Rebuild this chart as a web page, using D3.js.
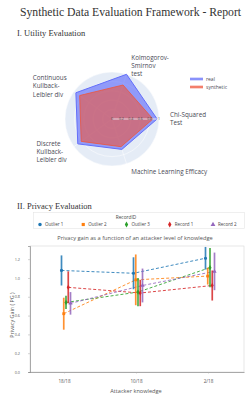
<!DOCTYPE html>
<html>
<head>
  <meta charset="UTF-8">
  <title>Synthetic Data Evaluation Framework - Report</title>
  <script src="https://d3js.org/d3.v7.min.js"></script>
  <style>
    body { margin: 0; background: #ffffff; }
    .serif { font-family: "Liberation Serif", "DejaVu Serif", serif; fill: #333; }
    .sans { font-family: "Open Sans", "Liberation Sans", sans-serif; }
    .axis text { font-family: "Open Sans", "Liberation Sans", sans-serif; fill: #555; }
  </style>
</head>
<body>
  <svg id="page" width="247" height="395"></svg>
  <script>
    // utility (radar) data
    const metrics = ["Chi-Squared\nTest", "Kolmogorov-\nSmirnov\ntest", "Continuous\nKullback-\nLeibler div",
                     "Discrete\nKullback-\nLeibler div", "Machine Learning Efficacy"];
    const realScores = [0.96, 1.0, 0.95, 0.90, 0.68];
    const synthScores = [0.87, 0.76, 0.85, 0.81, 0.62];
    const radialTicks = [0, 0.2, 0.4, 0.6, 0.8, 1];

    // privacy data
    const knowledge = ["18/18", "10/18", "2/18"];
    const records = ["Outlier 1", "Outlier 2", "Outlier 3", "Record 1", "Record 2"];
    const pgMean = [
      [1.08, 1.05, 1.21],
      [0.62, 0.98, 1.02],
      [0.74, 0.85, 1.11],
      [0.90, 0.84, 0.92],
      [0.73, 0.92, 1.07]
    ];
    const pgErr = [
      [0.16, 0.17, 0.12],
      [0.17, 0.27, 0.09],
      [0.07, 0.15, 0.21],
      [0.17, 0.14, 0.16],
      [0.12, 0.18, 0.20]
    ];
    const yTicks = [0, 0.2, 0.4, 0.6, 0.8, 1.0, 1.2];

    const svg = d3.select("#page");

    // headings
    svg.append("text").attr("class", "serif").attr("x", 20).attr("y", 16)
      .style("font-size", "11.7px").text("Synthetic Data Evaluation Framework - Report");
    svg.append("text").attr("class", "serif").attr("x", 17).attr("y", 36)
      .style("font-size", "8.5px").text("I. Utility Evaluation");
    svg.append("text").attr("class", "serif").attr("x", 17).attr("y", 209)
      .style("font-size", "8.5px").text("II. Privacy Evaluation");

    // ---------- radar ----------
    const cx = 112, cy = 119, R = 47;
    const r = d3.scaleLinear().domain([0, 1]).range([0, R]);
    const ang = d3.scalePoint().domain(d3.range(metrics.length)).range([0, 2 * Math.PI * 4 / 5]);
    const radar = svg.append("g").attr("transform", `translate(${cx},${cy})`);

    radar.append("circle").attr("r", R).attr("fill", "#e5ecf6");
    radar.selectAll("circle.grid").data(radialTicks.slice(1)).join("circle")
      .attr("class", "grid").attr("r", d => r(d))
      .attr("fill", "none").attr("stroke", "#fff").attr("stroke-width", 0.5);
    radar.selectAll("line.spoke").data(metrics).join("line")
      .attr("class", "spoke")
      .attr("x2", (d, i) => R * Math.cos(ang(i))).attr("y2", (d, i) => -R * Math.sin(ang(i)))
      .attr("stroke", "#fff").attr("stroke-width", 0.5);

    const polyPts = vals => vals.map((v, i) => [r(v) * Math.cos(ang(i)), -r(v) * Math.sin(ang(i))]);
    radar.append("path").datum(polyPts(realScores))
      .attr("d", d => d3.line()(d) + "Z")
      .attr("fill", "#636efa").attr("fill-opacity", 0.65)
      .attr("stroke", "#636efa").attr("stroke-width", 1);
    radar.append("path").datum(polyPts(synthScores))
      .attr("d", d => d3.line()(d) + "Z")
      .attr("fill", "#ef553b").attr("fill-opacity", 0.6)
      .attr("stroke", "#ef553b").attr("stroke-width", 0.8);

    // radial axis along 0 deg
    radar.append("line").attr("x2", R).attr("stroke", "#f4f4f8").attr("stroke-width", 0.8);
    radar.selectAll("text.rt").data(radialTicks).join("text")
      .attr("class", "rt sans").attr("x", d => r(d)).attr("y", 1.2)
      .attr("text-anchor", "middle").style("font-size", "3.5px").attr("fill", "#444")
      .text(d => d);

    // angular labels
    metrics.forEach((m, i) => {
      const a = ang(i), rr = R + 9;
      const lx = rr * Math.cos(a), ly = -rr * Math.sin(a);
      const lines = m.split("\n");
      const t = radar.append("text").attr("class", "sans").attr("fill", "#4a4a55")
        .style("font-size", "6.3px");
      lines.forEach((l, k) => t.append("tspan").attr("x", 0).attr("dy", k ? 8.3 : 0).text(l));
      const w = d3.max(t.selectAll("tspan").nodes(), n => n.getComputedTextLength());
      const h = (lines.length - 1) * 8.3;
      const x0 = Math.cos(a) > 0.05 ? lx + 2 : lx - w;
      t.attr("transform", `translate(${x0},${ly - h / 2 + 2.2})`);
    });

    // radar legend
    const rl = svg.append("g").attr("transform", "translate(190,79)");
    [["real", "#636efa"], ["synthetic", "#ef553b"]].forEach(([name, c], i) => {
      const g = rl.append("g").attr("transform", `translate(0,${i * 8})`);
      g.append("rect").attr("y", -1.5).attr("width", 13).attr("height", 3)
        .attr("fill", c).attr("fill-opacity", 0.5);
      g.append("line").attr("x2", 13).attr("stroke", c).attr("stroke-width", 1);
      g.append("text").attr("class", "sans").attr("x", 16).attr("y", 1.8)
        .style("font-size", "5px").attr("fill", "#4a4a55").text(name);
    });

    // ---------- privacy chart ----------
    const colors = ["#1f77b4", "#ff7f0e", "#2ca02c", "#d62728", "#9467bd"];
    const shapes = [d3.symbolCircle, d3.symbolSquare, d3.symbolDiamond, d3.symbolDiamond, d3.symbolTriangle];
    const color = d3.scaleOrdinal(records, colors);
    const shape = d3.scaleOrdinal(records, shapes);

    // legend box
    const lg = svg.append("g");
    lg.append("rect").attr("x", 33.5).attr("y", 212.5).attr("width", 211).attr("height", 16)
      .attr("fill", "#fff").attr("stroke", "#e4e4e4").attr("stroke-width", 0.6);
    lg.append("text").attr("class", "sans").attr("x", 126).attr("y", 219)
      .attr("text-anchor", "middle").style("font-size", "4.8px").attr("fill", "#444").text("RecordID");
    const legX = d3.scalePoint().domain(records).range([40, 213]);
    records.forEach(rec => {
      const g = lg.append("g").attr("transform", `translate(${legX(rec)},224.5)`);
      g.append("path").attr("d", d3.symbol(shape(rec), 10)()).attr("fill", color(rec));
      g.append("text").attr("class", "sans").attr("x", 5).attr("y", 1.5)
        .style("font-size", "4.5px").attr("fill", "#444").text(rec);
    });

    svg.append("text").attr("class", "sans").attr("x", 135).attr("y", 240)
      .attr("text-anchor", "middle").style("font-size", "5.7px").attr("fill", "#555")
      .text("Privacy gain as a function of an attacker level of knowledge");

    const plotL = 30, plotR = 244, plotT = 246, plotB = 372;
    const x = d3.scalePoint().domain(knowledge).range([plotL - 2, plotR]).padding(0.5);
    const dodge = d3.scalePoint().domain(records).range([-2.5, 6.5]);
    const y = d3.scaleLinear().domain([0, 1.34]).range([plotB, plotT]);

    svg.append("rect").attr("x", plotL).attr("y", plotT).attr("width", plotR - plotL).attr("height", plotB - plotT)
      .attr("fill", "none").attr("stroke", "#d8d8d8").attr("stroke-width", 0.6);

    const yAxis = svg.append("g").attr("class", "axis").attr("transform", `translate(${plotL},0)`)
      .call(d3.axisLeft(y).tickValues(yTicks).tickFormat(d3.format(".1f")).tickSize(2).tickPadding(8));
    yAxis.selectAll("text").style("font-size", "3.8px");
    yAxis.select(".domain").attr("stroke", "#888").attr("stroke-width", 0.7);
    yAxis.selectAll(".tick line").attr("stroke", "#aaa").attr("stroke-width", 0.5);

    const xAxis = svg.append("g").attr("class", "axis").attr("transform", `translate(0,${plotB})`)
      .call(d3.axisBottom(x).tickSize(1.5).tickPadding(6).tickSizeOuter(0));
    xAxis.selectAll("text").style("font-size", "4.6px");
    xAxis.select(".domain").attr("stroke", "#888").attr("stroke-width", 0.7);
    xAxis.selectAll(".tick line").attr("stroke", "#aaa").attr("stroke-width", 0.5);

    svg.append("text").attr("class", "sans").attr("x", 136).attr("y", 393)
      .attr("text-anchor", "middle").style("font-size", "5.6px").attr("fill", "#555")
      .text("Attacker knowledge");
    svg.append("text").attr("class", "sans")
      .attr("transform", `translate(14,${(plotT + plotB) / 2 + 6}) rotate(-90)`)
      .attr("text-anchor", "middle").style("font-size", "5.4px").attr("fill", "#555")
      .text("Privacy Gain ( PG )");

    const plot = svg.append("g");
    const series = records.map((rec, i) => ({
      rec,
      pts: knowledge.map((k, j) => ({ k, m: pgMean[i][j], e: pgErr[i][j] }))
    }));
    const px = (s, p) => x(p.k) + dodge(s.rec);

    series.forEach(s => {
      plot.append("path")
        .attr("d", d3.line().x(p => px(s, p)).y(p => y(p.m))(s.pts))
        .attr("fill", "none").attr("stroke", color(s.rec)).attr("stroke-width", 1)
        .attr("stroke-dasharray", "3,2").attr("opacity", 0.85);
    });
    series.forEach(s => {
      plot.selectAll(null).data(s.pts).join("line")
        .attr("x1", p => px(s, p)).attr("x2", p => px(s, p))
        .attr("y1", p => y(Math.min(p.m + p.e, 1.34))).attr("y2", p => y(p.m - p.e))
        .attr("stroke", color(s.rec)).attr("stroke-width", 1.7).attr("opacity", 0.85);
      plot.selectAll(null).data(s.pts).join("path")
        .attr("transform", p => `translate(${px(s, p)},${y(p.m)})`)
        .attr("d", d3.symbol(shape(s.rec), 8)())
        .attr("fill", color(s.rec));
    });
  </script>
</body>
</html>
